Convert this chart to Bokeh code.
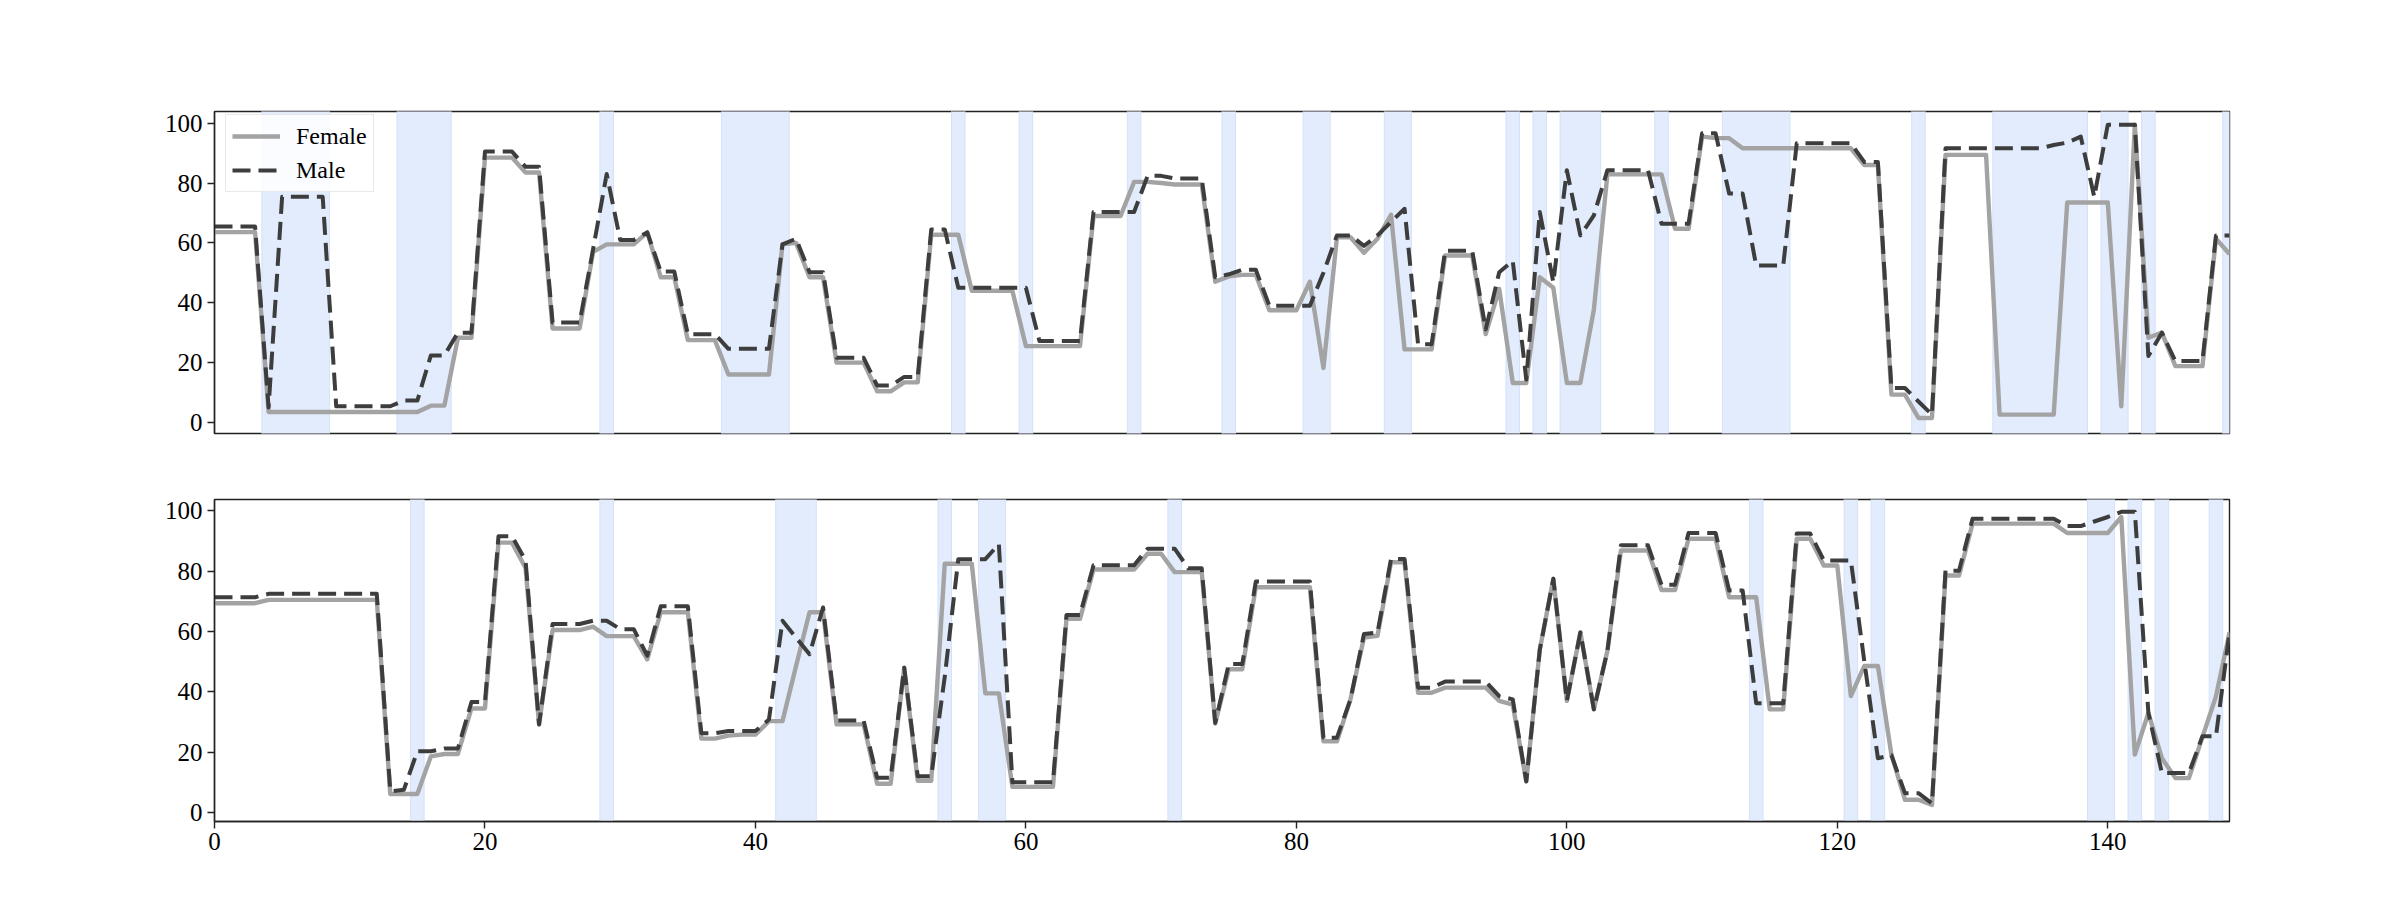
from bokeh.plotting import figure
from bokeh.models import Range1d, FixedTicker
from bokeh.layouts import column
from bokeh.embed import file_html
from bokeh.resources import INLINE

x_index = list(range(150))

top_female = [
    63.6, 63.6, 63.6, 63.6, 3.5, 3.5, 3.5, 3.5, 3.5, 3.5,
    3.5, 3.5, 3.5, 3.5, 3.5, 3.5, 5.6, 5.6, 28.3, 28.3,
    88.5, 88.5, 88.5, 83.5, 83.5, 31.4, 31.4, 31.4, 57.0, 59.5,
    59.5, 59.5, 63.5, 48.5, 48.5, 27.5, 27.5, 27.5, 16.0, 16.0,
    16.0, 16.0, 59.5, 60.0, 48.5, 48.5, 20.0, 20.0, 20.0, 10.4,
    10.4, 13.4, 13.4, 62.7, 62.7, 62.7, 44.0, 44.0, 44.0, 44.0,
    25.5, 25.5, 25.5, 25.5, 25.5, 69.0, 69.0, 69.0, 80.4, 80.4,
    80.0, 79.5, 79.5, 79.5, 47.0, 48.8, 49.3, 49.3, 37.5, 37.5,
    37.5, 47.0, 18.2, 61.9, 61.9, 56.7, 61.4, 69.4, 24.4, 24.4,
    24.4, 55.8, 55.8, 55.8, 29.5, 44.6, 13.2, 13.2, 48.5, 45.0,
    13.2, 13.2, 37.8, 82.9, 82.9, 82.9, 82.9, 82.9, 64.7, 64.7,
    95.5, 95.0, 95.0, 91.6, 91.6, 91.6, 91.6, 91.6, 91.6, 91.6,
    91.6, 91.6, 86.0, 86.0, 9.3, 9.3, 1.5, 1.5, 89.4, 89.4,
    89.4, 89.4, 2.6, 2.6, 2.6, 2.6, 2.6, 73.5, 73.5, 73.5,
    73.5, 5.4, 99.5, 28.3, 30.0, 18.8, 18.8, 18.8, 61.4, 56.3,
]

top_male = [
    65.5, 65.5, 65.5, 65.5, 5.0, 75.4, 75.4, 75.4, 75.4, 5.4,
    5.4, 5.4, 5.4, 5.4, 7.3, 7.3, 22.4, 22.4, 30.0, 30.0,
    90.5, 90.5, 90.5, 85.4, 85.4, 33.4, 33.4, 33.4, 58.0, 83.0,
    61.0, 61.0, 63.5, 50.4, 50.4, 29.5, 29.5, 29.5, 24.6, 24.6,
    24.6, 24.6, 59.5, 61.4, 50.2, 50.2, 21.6, 21.6, 21.6, 12.3,
    12.3, 15.2, 15.2, 64.5, 64.5, 45.0, 45.0, 45.0, 45.0, 45.0,
    45.0, 27.2, 27.2, 27.2, 27.2, 70.3, 70.3, 70.3, 70.3, 82.4,
    82.4, 81.5, 81.5, 81.5, 48.5, 49.5, 51.0, 51.0, 39.0, 39.0,
    39.0, 39.0, 50.0, 62.5, 62.5, 59.0, 62.5, 67.0, 71.4, 26.1,
    26.1, 57.4, 57.4, 57.4, 31.1, 50.2, 54.0, 14.3, 70.3, 46.8,
    84.3, 62.5, 69.2, 84.3, 84.3, 84.3, 84.3, 66.4, 66.4, 66.4,
    96.6, 96.6, 76.5, 76.5, 52.4, 52.4, 52.4, 93.3, 93.3, 93.3,
    93.3, 93.3, 87.0, 87.0, 11.5, 11.5, 7.0, 2.6, 91.6, 91.6,
    91.6, 91.6, 91.6, 91.6, 91.6, 91.6, 92.7, 93.5, 95.5, 75.4,
    99.5, 99.5, 99.5, 22.2, 30.0, 20.5, 20.5, 20.5, 62.5, 62.5,
]

bottom_female = [
    69.4, 69.4, 69.4, 69.4, 70.5, 70.5, 70.5, 70.5, 70.5, 70.5,
    70.5, 70.5, 70.5, 6.1, 6.1, 6.1, 18.6, 19.4, 19.4, 34.5,
    34.5, 89.5, 89.5, 81.1, 29.2, 60.5, 60.5, 60.5, 61.6, 58.5,
    58.5, 58.5, 50.8, 66.4, 66.4, 66.4, 24.5, 24.5, 25.5, 25.8,
    25.8, 30.3, 30.3, 48.5, 66.4, 66.4, 29.2, 29.2, 29.2, 9.5,
    9.5, 48.0, 10.5, 10.5, 82.5, 82.5, 82.5, 39.5, 39.5, 8.5,
    8.5, 8.5, 8.5, 64.2, 64.2, 80.6, 80.6, 80.6, 80.6, 85.8,
    85.8, 79.7, 79.7, 79.7, 29.5, 47.5, 47.5, 74.7, 74.7, 74.7,
    74.7, 74.7, 23.6, 23.6, 37.5, 58.0, 58.6, 83.0, 83.0, 39.7,
    39.7, 41.4, 41.4, 41.4, 41.4, 37.0, 35.8, 10.3, 54.0, 77.5,
    37.0, 59.7, 34.2, 53.6, 86.9, 86.9, 86.9, 73.8, 73.8, 90.8,
    90.8, 90.8, 71.4, 71.4, 71.4, 34.2, 34.2, 90.8, 90.8, 81.9,
    81.9, 38.6, 48.6, 48.6, 19.2, 4.2, 4.2, 2.5, 78.6, 78.6,
    95.8, 95.8, 95.8, 95.8, 95.8, 95.8, 95.8, 92.7, 92.7, 92.7,
    92.7, 98.0, 19.2, 33.0, 18.0, 11.4, 11.4, 25.0, 38.5, 59.7,
]

bottom_male = [
    71.4, 71.4, 71.4, 71.4, 72.5, 72.5, 72.5, 72.5, 72.5, 72.5,
    72.5, 72.5, 72.5, 7.0, 7.5, 20.3, 20.3, 21.2, 21.2, 36.6,
    36.6, 91.6, 91.6, 83.6, 29.2, 62.5, 62.5, 62.5, 63.6, 63.6,
    60.8, 60.8, 52.0, 68.4, 68.4, 68.4, 26.3, 26.3, 27.0, 27.0,
    27.0, 30.8, 63.6, 58.0, 52.5, 68.0, 30.5, 30.5, 30.5, 11.5,
    11.5, 48.0, 12.0, 12.0, 45.0, 84.0, 84.0, 84.0, 89.0, 10.0,
    10.0, 10.0, 10.0, 65.5, 65.5, 82.0, 82.0, 82.0, 82.0, 87.5,
    87.5, 87.5, 81.0, 81.0, 29.7, 49.2, 49.2, 76.6, 76.6, 76.6,
    76.6, 76.6, 24.8, 24.8, 37.5, 59.2, 59.7, 84.1, 84.1, 41.4,
    41.4, 43.4, 43.4, 43.4, 43.4, 38.6, 37.5, 10.3, 54.0, 77.5,
    37.0, 59.7, 34.2, 53.6, 88.6, 88.6, 88.6, 75.5, 75.5, 92.7,
    92.7, 92.7, 73.6, 73.6, 36.2, 36.2, 36.2, 92.5, 92.5, 83.6,
    83.6, 83.6, 50.0, 18.0, 19.0, 6.4, 6.4, 3.0, 80.2, 80.2,
    97.4, 97.4, 97.4, 97.4, 97.4, 97.4, 97.4, 95.0, 95.0, 96.5,
    98.0, 99.7, 99.7, 33.1, 13.1, 13.1, 13.1, 25.3, 25.3, 59.7,
]

top_span_start = [3.5, 13.5, 28.5, 37.5, 54.5, 59.5, 67.5, 74.5, 80.5, 86.5,
                  95.5, 97.5, 99.5, 106.5, 111.5, 125.5, 131.5, 139.5, 142.5, 148.5]
top_span_end = [8.5, 17.5, 29.5, 42.5, 55.5, 60.5, 68.5, 75.5, 82.5, 88.5,
                96.5, 98.5, 102.5, 107.5, 116.5, 126.5, 138.5, 141.5, 143.5, 149.5]
bottom_span_start = [14.5, 28.5, 41.5, 53.5, 56.5, 70.5, 113.5, 120.5, 122.5,
                     138.5, 141.5, 143.5, 147.5]
bottom_span_end = [15.5, 29.5, 44.5, 54.5, 58.5, 71.5, 114.5, 121.5, 123.5,
                   140.5, 142.5, 144.5, 148.5]

y_ticks = [0, 20, 40, 60, 80, 100]
x_ticks = [0, 20, 40, 60, 80, 100, 120, 140]

FONT = "Liberation Serif"
FEMALE_COLOR = "#a3a3a3"
MALE_COLOR = "#3d3d3d"
SPAN_FILL = "#e2ecfd"
SPAN_LINE = "#d3e1fb"


def make_panel(female, male, span_start, span_end, y_lo, y_hi, top, bottom, show_x, legend):
    p = figure(frame_width=2015, frame_height=322,
               x_range=Range1d(0, 149), y_range=Range1d(y_lo, y_hi),
               output_backend="svg", toolbar_location=None,
               min_border_left=214, min_border_right=147,
               min_border_top=top, min_border_bottom=bottom)
    p.background_fill_color = "white"
    p.border_fill_color = "white"
    p.outline_line_color = "#222222"
    p.outline_line_width = 1.4
    p.xgrid.visible = False
    p.ygrid.visible = False

    p.quad(left=span_start, right=span_end, bottom=-50, top=150,
           fill_color=SPAN_FILL, fill_alpha=1.0, line_color=SPAN_LINE, line_width=1)

    if legend:
        p.line(x_index, female, line_color=FEMALE_COLOR, line_width=4.4,
               line_join="round", legend_label="Female")
        p.line(x_index, male, line_color=MALE_COLOR, line_width=4.0,
               line_dash="18 8", line_join="round", legend_label="Male")
    else:
        p.line(x_index, female, line_color=FEMALE_COLOR, line_width=4.4, line_join="round")
        p.line(x_index, male, line_color=MALE_COLOR, line_width=4.0,
               line_dash="18 8", line_join="round")

    p.yaxis.ticker = FixedTicker(ticks=y_ticks)
    p.yaxis.major_label_text_font = FONT
    p.yaxis.major_label_text_font_size = "25px"
    p.yaxis.major_label_text_color = "black"
    p.yaxis.axis_line_color = "#222222"
    p.yaxis.axis_line_width = 1.4
    p.yaxis.major_tick_line_color = "#222222"
    p.yaxis.major_tick_line_width = 1.4
    p.yaxis.major_tick_out = 7
    p.yaxis.major_tick_in = 0
    p.yaxis.minor_tick_line_color = None
    p.yaxis.major_label_standoff = 5

    if show_x:
        p.xaxis.ticker = FixedTicker(ticks=x_ticks)
        p.xaxis.major_label_text_font = FONT
        p.xaxis.major_label_text_font_size = "25px"
        p.xaxis.major_label_text_color = "black"
        p.xaxis.axis_line_color = "#222222"
        p.xaxis.axis_line_width = 1.4
        p.xaxis.major_tick_line_color = "#222222"
        p.xaxis.major_tick_line_width = 1.4
        p.xaxis.major_tick_out = 7
        p.xaxis.major_tick_in = 0
        p.xaxis.minor_tick_line_color = None
        p.xaxis.major_label_standoff = 4
    else:
        p.xaxis.visible = False

    if legend:
        lg = p.legend[0]
        lg.location = (11, 241)
        lg.margin = 0
        lg.padding = 6
        lg.spacing = 4
        lg.border_line_color = "#d4d4d4"
        lg.border_line_width = 1.2
        lg.background_fill_color = "white"
        lg.background_fill_alpha = 0.85
        lg.label_text_font = FONT
        lg.label_text_font_size = "24px"
        lg.label_text_color = "black"
        lg.glyph_width = 48
        lg.glyph_height = 30
        lg.label_height = 30
        lg.label_standoff = 16
    return p


p1 = make_panel(top_female, top_male, top_span_start, top_span_end,
                -3.7, 103.9, 111, 32, False, True)
p2 = make_panel(bottom_female, bottom_male, bottom_span_start, bottom_span_end,
                -3.0, 103.8, 34, 60, True, False)

layout = column(p1, p2, spacing=0)
open("out.html", "w").write(file_html(layout, INLINE))
